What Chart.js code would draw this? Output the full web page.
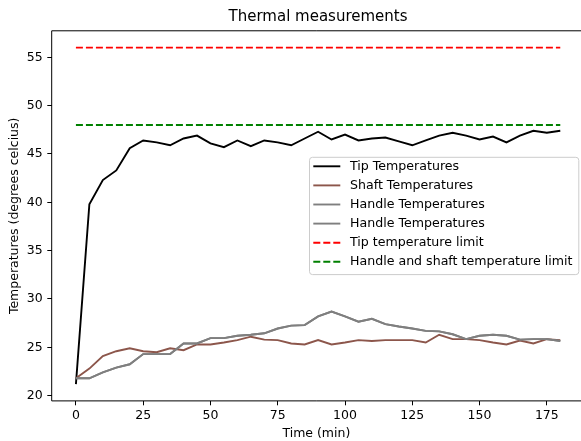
<!DOCTYPE html>
<html>
<head>
<meta charset="utf-8">
<script src="https://cdn.jsdelivr.net/npm/chart.js@4"></script>
<style>
  html, body { margin: 0; padding: 0; overflow: hidden; background: #fff; }
  #wrap { width: 581px; height: 441px; }
</style>
</head>
<body>
<div id="wrap"><canvas id="thermalChart"></canvas></div>
<script>
// measurement times (min)
const timeMin = [0, 5, 10, 15, 20, 25, 30, 35, 40, 45, 50, 55, 60, 65, 70, 75, 80, 85, 90,
                 95, 100, 105, 110, 115, 120, 125, 130, 135, 140, 145, 150, 155, 160, 165, 170, 175, 180];

const tipTemps = [21.2, 39.8, 42.3, 43.3, 45.6, 46.4, 46.2, 45.9, 46.6, 46.9, 46.1, 45.7, 46.4, 45.8, 46.4, 46.2, 45.9, 46.6, 47.3,
                  46.5, 47.0, 46.4, 46.6, 46.7, 46.3, 45.9, 46.4, 46.9, 47.2, 46.9, 46.5, 46.8, 46.2, 46.9, 47.4, 47.2, 47.4];

const shaftTemps = [21.8, 22.8, 24.1, 24.6, 24.9, 24.6, 24.5, 24.9, 24.7, 25.3, 25.3, 25.5, 25.75, 26.1, 25.8, 25.75, 25.4, 25.3, 25.75,
                    25.3, 25.5, 25.75, 25.65, 25.75, 25.75, 25.75, 25.5, 26.3, 25.85, 25.85, 25.75, 25.5, 25.3, 25.7, 25.4, 25.85, 25.75];

const handleTemps = [21.8, 21.8, 22.4, 22.9, 23.25, 24.3, 24.3, 24.3, 25.4, 25.4, 25.95, 25.95, 26.2, 26.3, 26.45, 26.95, 27.25, 27.3, 28.2,
                     28.7, 28.2, 27.65, 27.95, 27.4, 27.15, 26.95, 26.7, 26.65, 26.35, 25.85, 26.2, 26.3, 26.2, 25.8, 25.85, 25.85, 25.65];

const tipLimit = 56;
const handleShaftLimit = 48;

const xTicks = [0, 25, 50, 75, 100, 125, 150, 175];
const yTicks = [20, 25, 30, 35, 40, 45, 50, 55];

const FONT = "'DejaVu Sans', sans-serif";

const pts = ys => timeMin.map((t, i) => ({ x: t, y: ys[i] }));
const flat = v => [{ x: timeMin[0], y: v }, { x: timeMin[timeMin.length - 1], y: v }];

// matplotlib-like 5% margins; the figure is cropped a little on the right
const tMin = Math.min(...timeMin), tMax = Math.max(...timeMin);
const allY = [...tipTemps, ...shaftTemps, ...handleTemps, tipLimit, handleShaftLimit];
const vMin = Math.min(...allY), vMax = Math.max(...allY);
const xPad = (tMax - tMin) * 0.05, yPad = (vMax - vMin) * 0.05;
const xCut = 1.3;

const series = [
    { label: 'Tip Temperatures', data: pts(tipTemps), color: '#000000' },
    { label: 'Shaft Temperatures', data: pts(shaftTemps), color: '#8c564b' },
    { label: 'Handle Temperatures', data: pts(handleTemps), color: '#7f7f7f' },
    { label: 'Handle Temperatures', data: pts(handleTemps), color: '#7f7f7f' },
    { label: 'Tip temperature limit', data: flat(tipLimit), color: '#ff0000', dash: [7, 3] },
    { label: 'Handle and shaft temperature limit', data: flat(handleShaftLimit), color: '#008000', dash: [7, 3] }
];

// axes frame, title and legend box drawn like matplotlib
const decor = {
    id: 'decor',
    afterDatasetsDraw(chart) {
        const { ctx, chartArea: a } = chart;
        ctx.save();
        ctx.strokeStyle = '#000';
        ctx.lineWidth = 1;
        ctx.beginPath();
        ctx.moveTo(a.right + 1, a.top);
        ctx.lineTo(a.left, a.top);
        ctx.lineTo(a.left, a.bottom);
        ctx.lineTo(a.right + 1, a.bottom);
        ctx.stroke();

        ctx.fillStyle = '#000';
        ctx.font = '15px ' + FONT;
        ctx.textAlign = 'center';
        ctx.textBaseline = 'middle';
        ctx.fillText('Thermal measurements', (a.left + a.right + 3.4) / 2, 17);

        // legend
        const lx = a.left + 257.3, ly = a.top + 126, lw = 269.3, lh = 117.3;
        ctx.beginPath();
        ctx.roundRect(lx + 0.5, ly + 0.5, lw, lh, 3);
        ctx.fillStyle = 'rgba(255,255,255,0.8)';
        ctx.fill();
        ctx.strokeStyle = '#cccccc';
        ctx.stroke();

        ctx.font = '12.6px ' + FONT;
        ctx.textAlign = 'left';
        chart.data.datasets.forEach((ds, i) => {
            const y = ly + 9.5 + i * 19.1;
            ctx.beginPath();
            ctx.setLineDash(ds.borderDash || []);
            ctx.strokeStyle = ds.borderColor;
            ctx.lineWidth = ds.borderWidth;
            ctx.moveTo(lx + 4.3, y);
            ctx.lineTo(lx + 31.3, y);
            ctx.stroke();
            ctx.setLineDash([]);
            ctx.fillStyle = '#000';
            ctx.fillText(ds.label, lx + 41, y);
        });
        ctx.restore();
    }
};

new Chart(document.getElementById('thermalChart'), {
    type: 'line',
    data: {
        datasets: series.map((s, i) => ({
            label: s.label,
            data: s.data,
            borderColor: s.color,
            backgroundColor: s.color,
            borderWidth: 1.9,
            borderDash: s.dash || [],
            pointRadius: 0,
            tension: 0,
            fill: false,
            order: series.length - i
        }))
    },
    options: {
        responsive: true,
        maintainAspectRatio: false,
        animation: false,
        layout: { padding: { top: 30.8, right: 0, left: 0, bottom: 0 } },
        plugins: {
            legend: { display: false },
            tooltip: { enabled: false }
        },
        scales: {
            x: {
                type: 'linear',
                min: tMin - xPad,
                max: tMax + xPad - xCut,
                afterBuildTicks: s => { s.ticks = xTicks.map(v => ({ value: v })); },
                afterFit: s => { s.height = 40.1; },
                grid: { drawOnChartArea: false, drawTicks: true, tickLength: 4.4, tickColor: '#000', tickWidth: 1 },
                border: { display: false },
                ticks: { color: '#000', font: { family: FONT, size: 12.5 }, padding: 3, maxRotation: 0, autoSkip: false },
                title: { display: true, text: 'Time (min)', color: '#000', font: { family: FONT, size: 12.5 }, padding: { top: 5.5, bottom: 0 } }
            },
            y: {
                min: vMin - yPad,
                max: vMax + yPad,
                afterBuildTicks: s => { s.ticks = yTicks.map(v => ({ value: v })); },
                afterFit: s => { s.width = 51.7; },
                grid: { drawOnChartArea: false, drawTicks: true, tickLength: 4.4, tickColor: '#000', tickWidth: 1 },
                border: { display: false },
                ticks: { color: '#000', font: { family: FONT, size: 12.5 }, padding: 4.6 },
                title: { display: true, text: 'Temperatures (degrees celcius)', color: '#000', font: { family: FONT, size: 12.5 }, padding: { top: 7, bottom: 0 } }
            }
        }
    },
    plugins: [decor]
});
</script>
</body>
</html>
